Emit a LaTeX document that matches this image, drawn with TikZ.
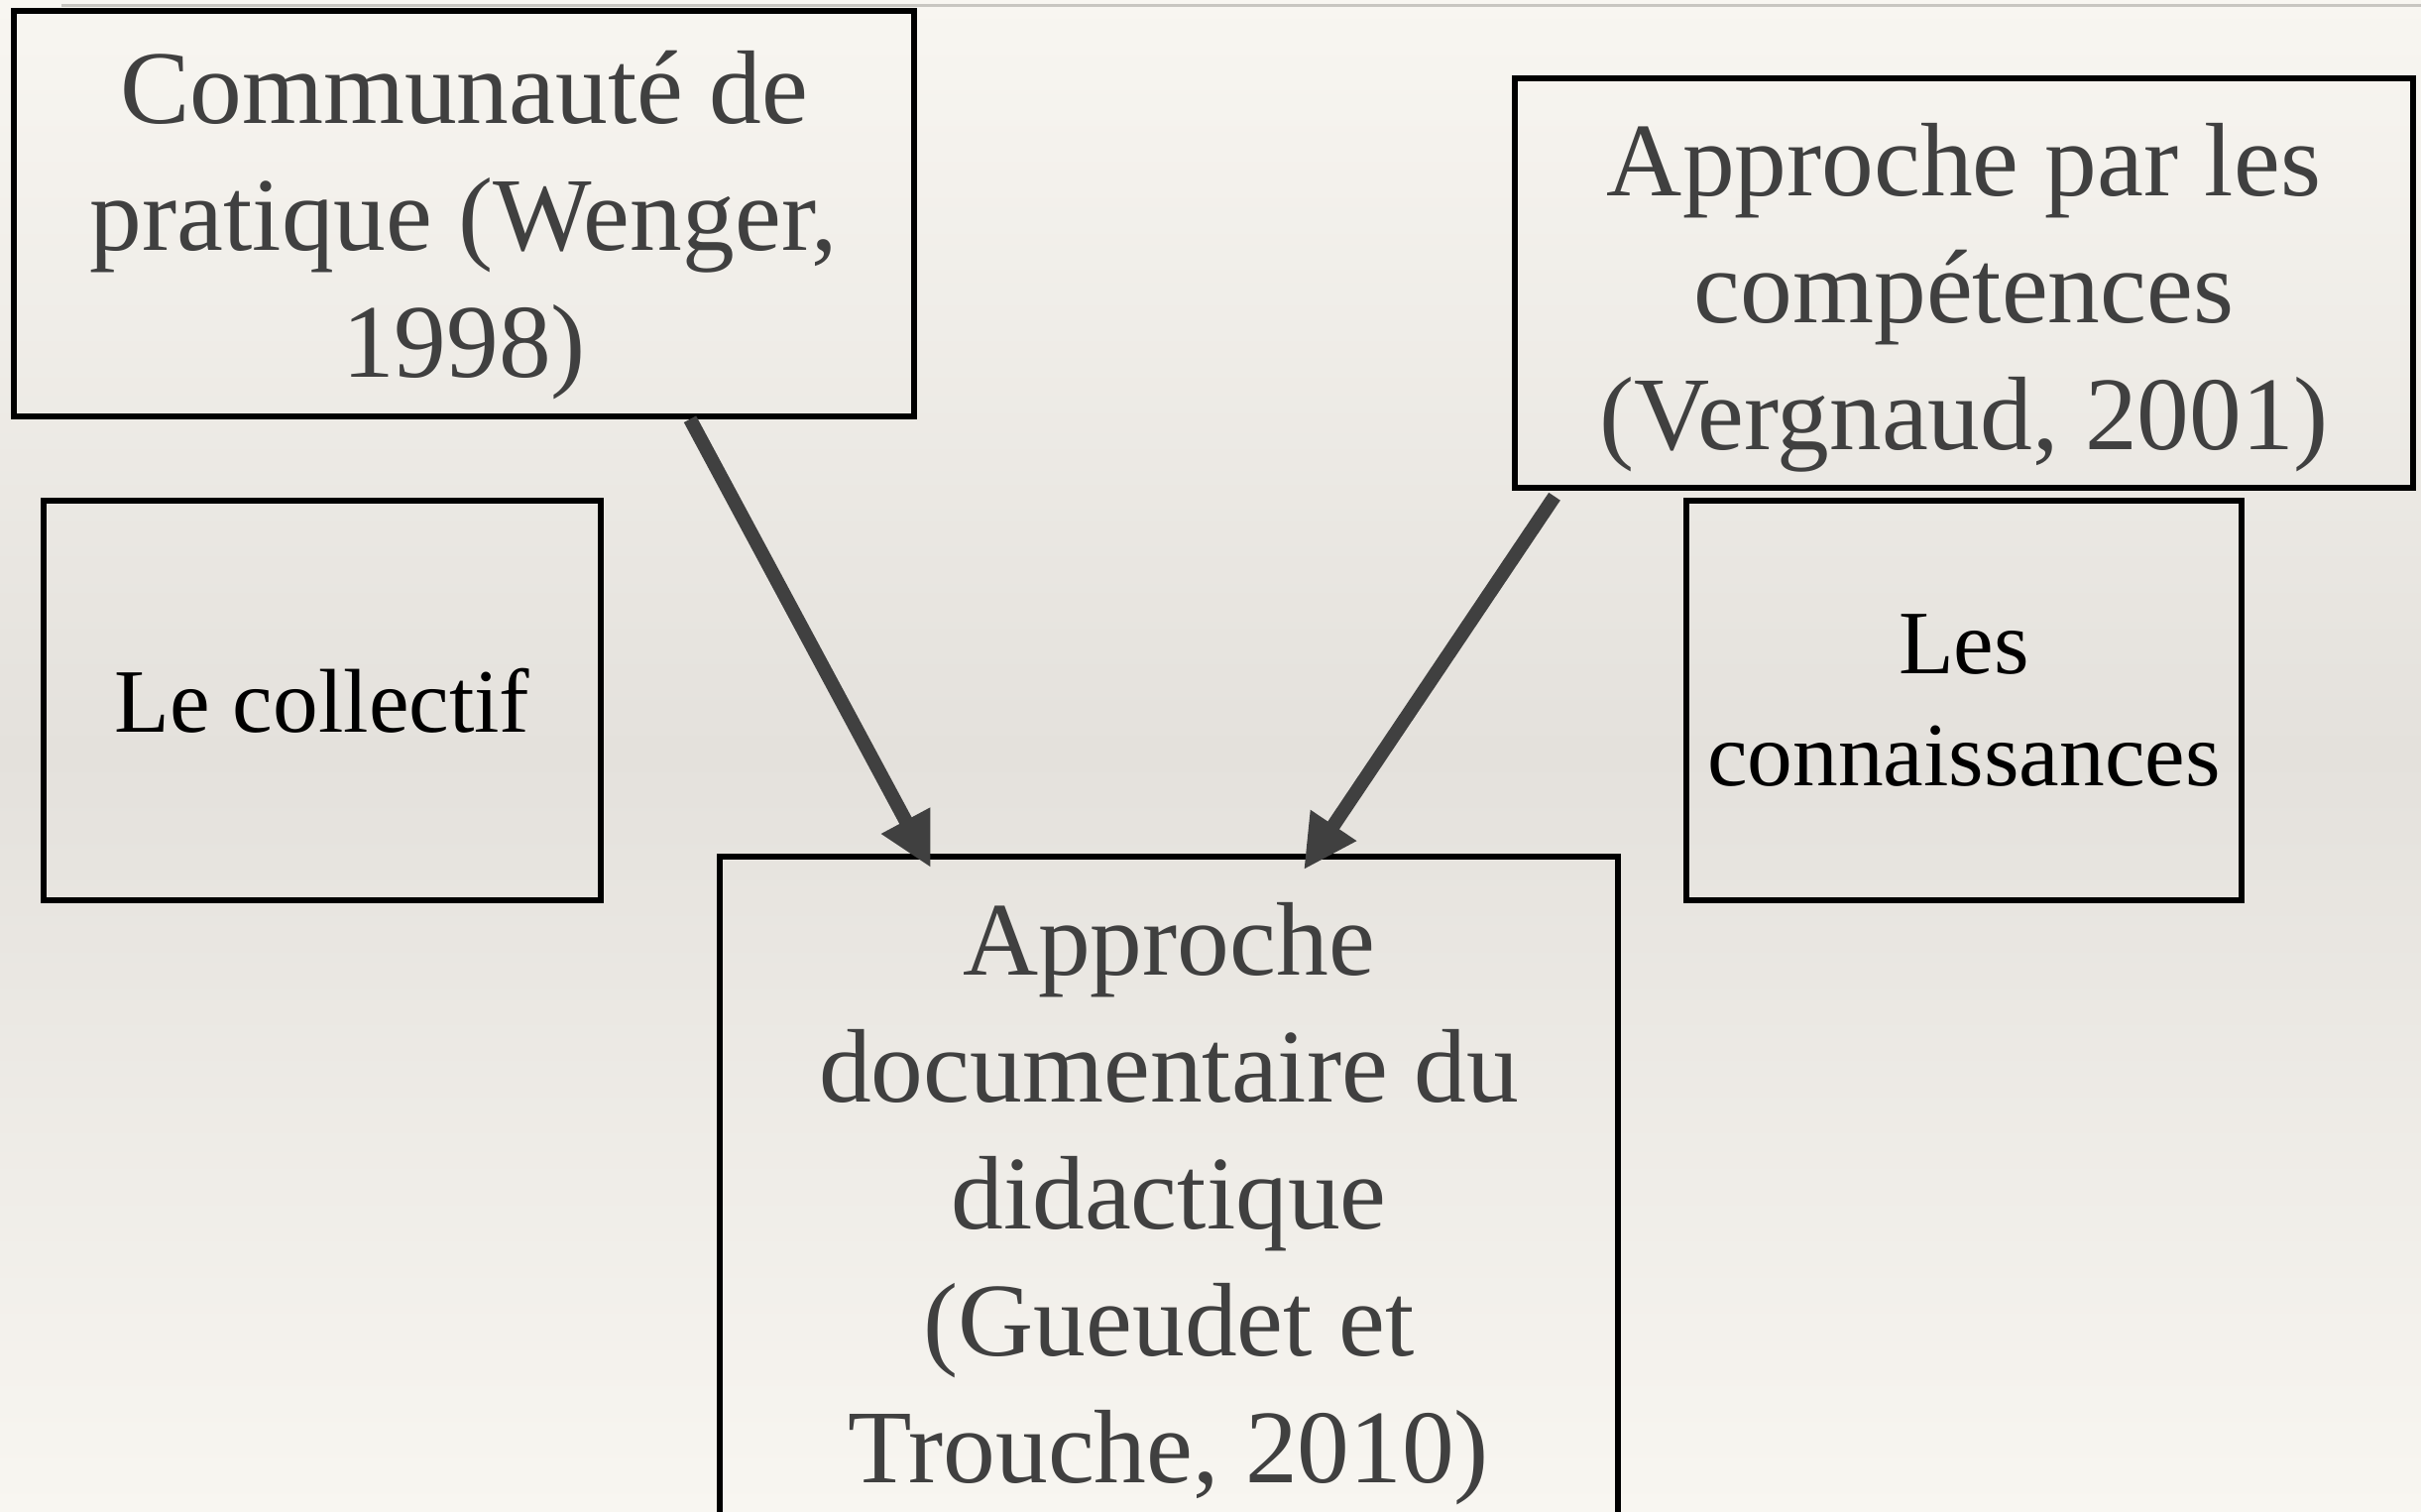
\documentclass[tikz,border=0pt]{standalone}
\usepackage{fontspec}
\setmainfont{Liberation Serif}
\usetikzlibrary{arrows.meta}

\definecolor{fond}{RGB}{248,246,241}
\definecolor{fondmil}{RGB}{228,225,220}
\definecolor{gristxt}{RGB}{64,64,64}
\definecolor{trait}{RGB}{200,198,193}

\tikzset{
  bloc/.style={draw=black, line width=0.055cm, align=center, inner sep=0pt},
  theorie/.style={text=gristxt, align=center, inner sep=0pt, font=\fontsize{30}{36.4}\selectfont},
  notion/.style={bloc, text=black, font=\fontsize{26}{31.9}\selectfont},
  fleche/.style={draw=gristxt, line width=0.14cm, -{Triangle[length=0.54cm,width=0.52cm]}}
}

\begin{document}
\begin{tikzpicture}

\clip (0,0) rectangle (24.42,-15.25);
\shade [top color=fond, bottom color=fondmil] (0,0) rectangle (24.42,-7.6);
\shade [top color=fondmil, bottom color=fond] (0,-7.6) rectangle (24.42,-15.25);

% thin line along the top
\draw [trait, line width=0.03cm] (0.62,-0.06) -- (24.42,-0.06);

% the two theories on top
\node [bloc, minimum width=9.08cm, minimum height=4.09cm] (commu) at (4.68,-2.155) {};
\node [theorie] (commu-txt) at ([yshift=-0.12cm]commu.center) {Communauté de\\pratique (Wenger,\\1998)};
\node [bloc, minimum width=9.06cm, minimum height=4.13cm] (compet) at (19.81,-2.855) {};
\node [theorie] (compet-txt) at ([yshift=-0.15cm]compet.center) {Approche par les\\compétences\\(Vergnaud, 2001)};

\node [notion, minimum width=5.62cm, minimum height=4.03cm] (collectif) at (3.25,-7.065) {Le collectif};
\node [notion, minimum width=5.60cm, minimum height=4.03cm] (connais) at (19.81,-7.065) {Les\\connaissances};

\node [bloc, theorie, minimum width=9.06cm, minimum height=7.00cm] (docu) at (11.79,-12.14) {Approche\\documentaire du\\didactique\\(Gueudet et\\Trouche, 2010)};

\draw [fleche] ([xshift=2.28cm]commu.south) -- ([xshift=-2.40cm,yshift=-0.14cm]docu.north);
\draw [fleche] ([xshift=-4.13cm,yshift=-0.06cm]compet.south) -- ([xshift=1.36cm,yshift=-0.16cm]docu.north);

\end{tikzpicture}
\end{document}
